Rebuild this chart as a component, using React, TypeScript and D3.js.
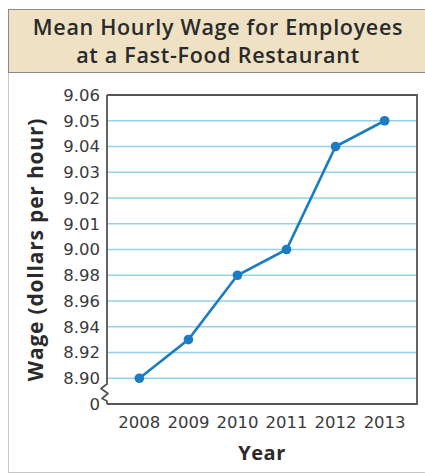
import React, { useEffect, useRef } from 'react';
import * as d3 from 'd3';

const years = ['2008', '2009', '2010', '2011', '2012', '2013'];
const wages = [8.9, 8.93, 8.98, 9.0, 9.04, 9.05];
const yTicks = [0, 8.9, 8.92, 8.94, 8.96, 8.98, 9.0, 9.01, 9.02, 9.03, 9.04, 9.05, 9.06];
const yTickLabels = ['0', '8.90', '8.92', '8.94', '8.96', '8.98', '9.00', '9.01', '9.02', '9.03', '9.04', '9.05', '9.06'];

const width = 425;
const height = 474;
const FONT = '"Open Sans", "Noto Sans", sans-serif';
const TICK_FONT = '"DejaVu Sans", sans-serif';

function App() {
  const svgRef = useRef<SVGSVGElement>(null);

  useEffect(() => {
    if (!svgRef.current) return;
    const svg = d3.select(svgRef.current);
    svg.selectAll('*').remove();

    const plot = { left: 107, right: 417, top: 95, bottom: 404 };

    // outer frame
    svg.append('rect')
      .attr('x', 8.5).attr('y', 9.5)
      .attr('width', width).attr('height', 463)
      .attr('fill', 'white')
      .attr('stroke', '#c8c8c8').attr('stroke-width', 1);

    // title band
    svg.append('rect')
      .attr('x', 8.5).attr('y', 9.5)
      .attr('width', width).attr('height', 63)
      .attr('fill', '#efe1c3')
      .attr('stroke', '#8a8a8a').attr('stroke-width', 1);

    const title = svg.append('text')
      .attr('text-anchor', 'middle')
      .style('font-family', FONT)
      .style('font-size', '21.5px')
      .style('font-weight', 600)
      .style('letter-spacing', '0.7px')
      .style('fill', '#2a2a2a');
    title.append('tspan').attr('x', 218).attr('y', 35).text('Mean Hourly Wage for Employees');
    title.append('tspan').attr('x', 218).attr('y', 63).text('at a Fast-Food Restaurant');

    // scales: broken axis, 0.01 steps above 9.00, 0.02 steps below
    const yScale = d3.scaleLinear()
      .domain([0, 8.9, 9.0, 9.06])
      .range([plot.bottom, plot.bottom - 25.75, plot.bottom - 25.75 * 6, plot.top]);

    const xScale = d3.scalePoint<string>()
      .domain(years)
      .range([plot.left, plot.right])
      .padding(0.66);

    // grid lines
    svg.append('g')
      .selectAll('line')
      .data(yTicks.filter(d => d > 0 && d < 9.06))
      .enter().append('line')
      .attr('x1', plot.left).attr('x2', plot.right)
      .attr('y1', d => yScale(d)).attr('y2', d => yScale(d))
      .attr('stroke', '#93d2ea')
      .attr('stroke-width', 1.6);

    // frame of plot with axis break on the left
    const axisColor = '#555';
    svg.append('path')
      .attr('d', `M${plot.left},${plot.top} H${plot.right} V${plot.bottom} H${plot.left}`)
      .attr('fill', 'none').attr('stroke', axisColor).attr('stroke-width', 1.8);
    svg.append('path')
      .attr('d', `M${plot.left},${plot.top} V384 L101,388.5 L108,393.5 L102,398.5 L${plot.left},401 V${plot.bottom}`)
      .attr('fill', 'none').attr('stroke', axisColor).attr('stroke-width', 1.8)
      .attr('stroke-linejoin', 'round');

    // y tick labels
    svg.append('g')
      .selectAll('text')
      .data(yTicks)
      .enter().append('text')
      .attr('x', 100)
      .attr('y', d => yScale(d))
      .attr('dy', '0.36em')
      .attr('text-anchor', 'end')
      .style('font-family', TICK_FONT)
      .style('font-size', '16.5px')
      .style('fill', '#3a3a3a')
      .text((d, i) => yTickLabels[i]);

    // x tick labels
    svg.append('g')
      .selectAll('text')
      .data(years)
      .enter().append('text')
      .attr('x', d => xScale(d) as number)
      .attr('y', 428)
      .attr('text-anchor', 'middle')
      .style('font-family', TICK_FONT)
      .style('font-size', '16.5px')
      .style('fill', '#3a3a3a')
      .text(d => d);

    // line + dots
    const pts = years.map((y, i) => ({ year: y, wage: wages[i] }));
    const line = d3.line<{ year: string; wage: number }>()
      .x(d => xScale(d.year) as number)
      .y(d => yScale(d.wage));

    svg.append('path')
      .datum(pts)
      .attr('fill', 'none')
      .attr('stroke', '#1b7cc4')
      .attr('stroke-width', 2.6)
      .attr('d', line);

    svg.append('g')
      .selectAll('circle')
      .data(pts)
      .enter().append('circle')
      .attr('cx', d => xScale(d.year) as number)
      .attr('cy', d => yScale(d.wage))
      .attr('r', 4.8)
      .attr('fill', '#1b7cc4');

    // axis titles
    svg.append('text')
      .attr('transform', `translate(43,${(plot.top + plot.bottom) / 2}) rotate(-90)`)
      .attr('text-anchor', 'middle')
      .style('font-family', FONT)
      .style('font-size', '21px')
      .style('font-weight', 700)
      .style('letter-spacing', '0.8px')
      .style('fill', '#2a2a2a')
      .text('Wage (dollars per hour)');

    svg.append('text')
      .attr('x', 262)
      .attr('y', 460)
      .attr('text-anchor', 'middle')
      .style('font-family', FONT)
      .style('font-size', '20px')
      .style('font-weight', 700)
      .style('letter-spacing', '0.5px')
      .style('fill', '#2a2a2a')
      .text('Year');
  }, []);

  return (
    <div style={{ position: 'absolute', left: 0, top: 0 }}>
      <svg ref={svgRef} width={width} height={height} style={{ display: 'block' }}></svg>
    </div>
  );
}

export default App;
